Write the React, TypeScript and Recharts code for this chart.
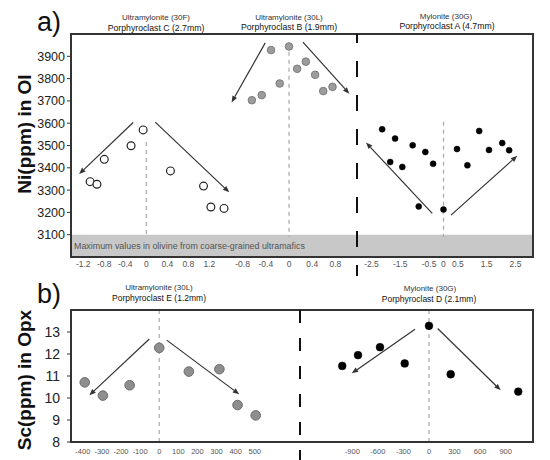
import React from "react";
import { ScatterChart, Scatter, XAxis, YAxis, ReferenceLine, ReferenceArea } from "recharts";

const FONT = "'Liberation Sans', Arial, sans-serif";

// a) Ni (ppm) in olivine vs distance from porphyroclast core (mm)
const cDist = [-1.07, -0.94, -0.8, -0.29, -0.06, 0.46, 1.09, 1.23, 1.48];
const cNi = [3338, 3326, 3438, 3499, 3570, 3386, 3318, 3224, 3218];
const bDist = [-0.64, -0.47, -0.31, -0.16, 0, 0.14, 0.29, 0.45, 0.59, 0.75];
const bNi = [3703, 3726, 3928, 3778, 3944, 3844, 3876, 3817, 3744, 3763];
const aDist = [-2.13, -1.85, -1.68, -1.43, -1.07, -0.86, -0.63, -0.36, 0, 0.47, 0.83, 1.24, 1.58, 2.04, 2.28];
const aNi = [3573, 3426, 3531, 3404, 3501, 3227, 3471, 3418, 3213, 3484, 3411, 3565, 3480, 3511, 3479];

// b) Sc (ppm) in orthopyroxene vs distance (µm)
const eDist = [-390, -295, -155, 0, 155, 315, 410, 505];
const eSc = [10.71, 10.11, 10.58, 12.28, 11.2, 11.31, 9.68, 9.21];
const dDist = [-1018, -833, -575, -285, 0, 255, 1048];
const dSc = [11.46, 11.95, 12.31, 11.57, 13.28, 11.08, 10.29];

// trend arrows: [start, end] in data units
const cArrows = [[[-0.25, 3603], [-1.28, 3372]], [[0.17, 3605], [1.58, 3290]]];
const bArrows = [[[-0.41, 3960], [-0.99, 3693]], [[0.24, 3964], [1.04, 3732]]];
const aArrows = [[[-0.39, 3196], [-2.69, 3513]], [[0.26, 3188], [2.56, 3454]]];
const eArrows = [[[-52, 12.68], [-366, 10.12]], [[39, 12.63], [419, 10.17]]];
const dArrows = [[[-164, 13.13], [-907, 11.12]], [[102, 13.16], [842, 10.35]]];

// ticks
const niTicks = [3100, 3200, 3300, 3400, 3500, 3600, 3700, 3800, 3900];
const scTicks = [8, 9, 10, 11, 12, 13];
const cTicks = [-1.2, -0.8, -0.4, 0, 0.4, 0.8, 1.2];
const bTicks = [-0.8, -0.4, 0, 0.4, 0.8];
const aTicks = [-2.5, -1.5, -0.5, 0, 0.5, 1.5, 2.5];
const eTicks = [-400, -300, -200, -100, 0, 100, 200, 300, 400, 500];
const dTicks = [-900, -600, -300, 0, 300, 600, 900];

const coarseMax = [3000, 3100];

const pts = (xs: number[], ys: number[]) => xs.map((x, i) => ({ x, y: ys[i] }));

const makeDot = (r: number, fill: string, stroke: string, sw: number) => (p: any) =>
  <circle cx={p.cx} cy={p.cy} r={r} fill={fill} stroke={stroke} strokeWidth={sw} />;

const openDot = makeDot(3.9, "#fff", "#222", 1.2);
const grayDot = makeDot(3.8, "#9c9c9c", "#7c7c7c", 1);
const blackDot = makeDot(3, "#000", "#000", 0.5);
const grayDotB = makeDot(4.8, "#8e8e8e", "#6c6c6c", 1);
const blackDotB = makeDot(3.9, "#000", "#000", 0.5);

function Arrow(p: any) {
  const { x1, y1, x2, y2 } = p;
  const a = Math.atan2(y2 - y1, x2 - x1);
  const L = 6.5, W = 2.6;
  const bx = x2 - L * Math.cos(a), by = y2 - L * Math.sin(a);
  const pts2 = `${x2},${y2} ${bx + W * Math.sin(a)},${by - W * Math.cos(a)} ${bx - W * Math.sin(a)},${by + W * Math.cos(a)}`;
  return (
    <g>
      <line x1={x1} y1={y1} x2={bx} y2={by} stroke="#333" strokeWidth={1.2} />
      <polygon points={pts2} fill="#333" />
    </g>
  );
}

function SubPanel(props: any) {
  const { left, top, width, plotH, xH, axisW, xDomain, xTicks, yDomain, yTicks, data, dot, arrows,
    zeroSeg, band, xFont, xGap, yFont, yGap } = props;
  return (
    <div style={{ position: "absolute", left: left - axisW, top }}>
      <ScatterChart width={width + axisW} height={plotH + xH} margin={{ top: 0, right: 0, bottom: 0, left: 0 }}>
        <XAxis type="number" dataKey="x" domain={xDomain} ticks={xTicks} allowDataOverflow interval={0}
          axisLine={false} tickLine={false} tickSize={0} tickMargin={xGap} height={xH}
          tick={{ fontSize: xFont, fill: "#555", fontFamily: FONT }} />
        {yTicks ? (
          <YAxis type="number" dataKey="y" domain={yDomain} ticks={yTicks} allowDataOverflow interval={0}
            width={axisW} axisLine={false} tickLine={{ stroke: "#333" }} tickSize={4} tickMargin={yGap}
            tick={{ fontSize: yFont, fill: "#222", fontFamily: FONT }} />
        ) : (
          <YAxis hide type="number" dataKey="y" domain={yDomain} allowDataOverflow />
        )}
        {band && <ReferenceArea y1={band[0]} y2={band[1]} fill="#c8c8c8" fillOpacity={1} stroke="none" ifOverflow="visible" />}
        {zeroSeg ? (
          <ReferenceLine segment={[{ x: 0, y: zeroSeg[0] }, { x: 0, y: zeroSeg[1] }]} stroke="#a8a8a8"
            strokeWidth={1.2} strokeDasharray="4 4" ifOverflow="visible" />
        ) : (
          <ReferenceLine x={0} stroke="#a8a8a8" strokeWidth={1.2} strokeDasharray="4 4" />
        )}
        {arrows.map((s: number[][], i: number) => (
          <ReferenceLine key={i} segment={[{ x: s[0][0], y: s[0][1] }, { x: s[1][0], y: s[1][1] }]}
            ifOverflow="visible" shape={Arrow} />
        ))}
        <Scatter data={data} shape={dot} isAnimationActive={false} />
      </ScatterChart>
    </div>
  );
}

export default function App() {
  const topA = { top: 34, plotH: 223, xH: 22, yDomain: [3000, 4000], band: coarseMax, xFont: 8.5, xGap: 3.5 };
  const topB = { top: 310, plotH: 132, xH: 18, yDomain: [8, 14], xFont: 7.5, xGap: 6.8 };
  return (
    <div style={{ position: "absolute", left: 0, top: 0, width: 550, height: 460, background: "#fff", fontFamily: FONT, overflow: "hidden" }}>
      <SubPanel {...topA} left={71} width={160} axisW={45} xDomain={[-1.434, 1.613]} xTicks={cTicks}
        yTicks={niTicks} yFont={12.5} yGap={2} data={pts(cDist, cNi)} dot={openDot} arrows={cArrows} zeroSeg={[3516, 3090]} />
      <SubPanel {...topA} left={231} width={126} axisW={0} xDomain={[-1.0, 1.172]} xTicks={bTicks}
        data={pts(bDist, bNi)} dot={grayDot} arrows={bArrows} zeroSeg={[3920, 3090]} />
      <SubPanel {...topA} left={357} width={176} axisW={0} xDomain={[-3.003, 3.108]} xTicks={aTicks}
        data={pts(aDist, aNi)} dot={blackDot} arrows={aArrows} zeroSeg={[3606, 3090]} />

      <SubPanel {...topB} left={71} width={229} axisW={45} xDomain={[-462, 737]} xTicks={eTicks}
        yTicks={scTicks} yFont={14} yGap={7} data={pts(eDist, eSc)} dot={grayDotB} arrows={eArrows} />
      <SubPanel {...topB} left={300} width={233} axisW={0} xDomain={[-1514, 1221]} xTicks={dTicks}
        data={pts(dDist, dSc)} dot={blackDotB} arrows={dArrows} />

      <svg width={550} height={460} style={{ position: "absolute", left: 0, top: 0 }}>
        <rect x={71} y={34} width={462} height={223} fill="none" stroke="#333" strokeWidth={2} />
        <rect x={71} y={310} width={462} height={132} fill="none" stroke="#333" strokeWidth={2} />
        <line x1={357} y1={34} x2={357} y2={276} stroke="#111" strokeWidth={2} strokeDasharray="16 18" strokeDashoffset={7} />
        <line x1={300} y1={310} x2={300} y2={460} stroke="#111" strokeWidth={2} strokeDasharray="13 15" />

        <text x={74} y={246} dominantBaseline="central" fontSize={8.9} fill="#555">
          Maximum values in olivine from coarse-grained ultramafics
        </text>

        <text x={37} y={31} fontSize={27} fill="#111">a)</text>
        <text x={37} y={303} fontSize={27} fill="#111">b)</text>

        <text transform="translate(24,134) rotate(-90)" textAnchor="middle" dominantBaseline="central"
          fontSize={19} fontWeight="bold" fill="#111">Ni(ppm) in Ol</text>
        <text transform="translate(24,380) rotate(-90)" textAnchor="middle" dominantBaseline="central"
          fontSize={19} fontWeight="bold" fill="#111">Sc(ppm) in Opx</text>

        <g textAnchor="middle" dominantBaseline="central">
          <text x={156} y={17} fontSize={8} fill="#333">Ultramylonite (30F)</text>
          <text x={156} y={28} fontSize={8.7} fill="#111">Porphyroclast C (2.7mm)</text>
          <text x={289} y={17} fontSize={8} fill="#333">Ultramylonite (30L)</text>
          <text x={289} y={27} fontSize={8.7} fill="#111">Porphyroclast B (1.9mm)</text>
          <text x={446} y={16} fontSize={8} fill="#333">Mylonite (30G)</text>
          <text x={447} y={26} fontSize={8.7} fill="#111">Porphyroclast A (4.7mm)</text>

          <text x={159} y={287} fontSize={8} fill="#333">Ultramylonite (30L)</text>
          <text x={159} y={298} fontSize={8.5} fill="#111">Porphyroclast E (1.2mm)</text>
          <text x={430} y={288} fontSize={8} fill="#333">Mylonite (30G)</text>
          <text x={429} y={299} fontSize={8.5} fill="#111">Porphyroclast D (2.1mm)</text>
        </g>
      </svg>
    </div>
  );
}
